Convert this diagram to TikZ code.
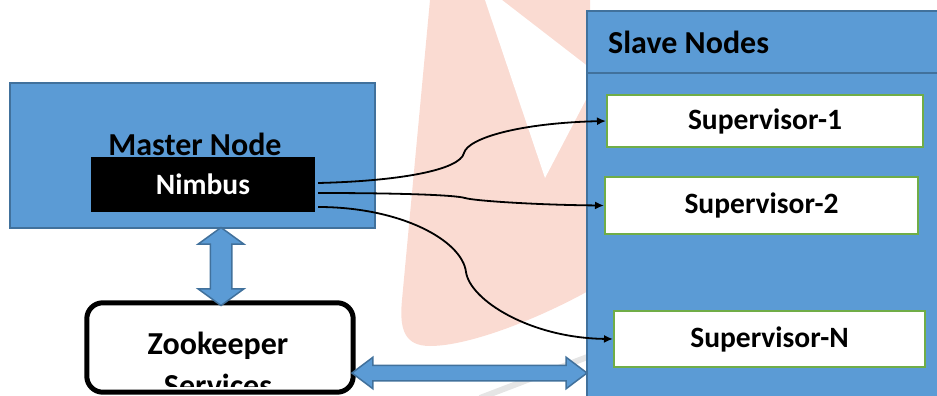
\documentclass[tikz,border=0pt]{standalone}
\usepackage{fontspec}
\setmainfont{Carlito}
\usetikzlibrary{shapes.arrows,arrows.meta}
\definecolor{boxblue}{HTML}{5B9BD5}
\definecolor{edgeblue}{HTML}{41719C}
\definecolor{supgreen}{HTML}{70AD47}
\definecolor{markpink}{HTML}{FADBD2}

\begin{document}
\begin{tikzpicture}[x=1pt, y=-1pt,
    bluebox/.style={draw=edgeblue, fill=boxblue, line width=2pt, inner sep=0pt},
    supbox/.style={draw=supgreen, fill=white, line width=2pt, inner sep=0pt,
      font=\fontsize{29.5}{34}\selectfont\bfseries},
    title/.style={inner sep=0pt, font=\fontsize{32}{42}\selectfont\bfseries},
    fatarrow/.style={double arrow, draw=edgeblue, fill=boxblue, line width=1.5pt, inner sep=0pt},
    link/.style={-{Latex[length=9pt,width=8pt]}, line width=1.8pt}]
  \useasboundingbox (0,0) rectangle (937,396);
  \clip (0,0) rectangle (937,396);

  % faint watermark behind everything
  \fill[markpink] (430,0) -- (590,0) -- (590,290) .. controls (540,318) and (470,346) .. (430,346)
      .. controls (405,346) and (399,330) .. (402,300) -- cycle;
  \fill[white] (485,0) -- (502,0) -- (590,68) -- (590,92) -- (545,178) -- cycle;
  \draw[gray!20, line width=6pt] (480,398) -- (590,356);

  % master side
  \node[bluebox, minimum width=365pt, minimum height=145pt] (master) at (192.5,155.5) {};
  \node[title] (mastertxt) at (195,144) {Master Node};
  \node[fill=black, inner sep=0pt, minimum width=224pt, minimum height=55pt, text=white,
    font=\fontsize{29.5}{34}\selectfont\bfseries] (nimbus) at (203,184.5) {Nimbus};

  % zookeeper box, the second line is cut by its bottom edge
  \node[fill=white, rounded corners=16pt, minimum width=266pt, minimum height=89pt] (zookeeper) at (220,347.5) {};
  \begin{scope}
    \clip (0,0) rectangle (937,386);
    \node[title, align=center, anchor=north] (zktxt) at (218,332) {Zookeeper\\Services};
  \end{scope}
  \draw[line width=5pt, rounded corners=16pt] (zookeeper.north west) rectangle (zookeeper.south east);

  % slave side
  \node[bluebox, minimum width=370pt, minimum height=400pt, anchor=north west] (slave) at (586,10) {};
  \coordinate (hdr) at (0,73);
  \draw[edgeblue, line width=2pt] (slave.west |- hdr) -- (slave.east |- hdr);
  \node[title, anchor=west] (slavetxt) at (608,42) {Slave Nodes};

  \node[supbox, minimum width=316pt, minimum height=52pt] (sup1) at (765,121) {Supervisor-1};
  \node[supbox, minimum width=313pt, minimum height=57pt] (sup2) at (761.5,205.5) {Supervisor-2};
  \node[supbox, minimum width=311pt, minimum height=56pt] (supN) at (769.5,339) {Supervisor-N};

  % block arrows
  \node[fatarrow, rotate=90, minimum height=78pt, inner ysep=10pt,
    double arrow head extend=12pt, double arrow tip angle=108] (mzk) at (221,266.5) {};
  \node[fatarrow, minimum height=235pt, inner ysep=7pt,
    double arrow head extend=8pt, double arrow tip angle=74] (zks) at (469.5,373) {};

  % nimbus to supervisors
  \draw[link] ([xshift=3pt,yshift=1.5pt]nimbus.east) .. controls (400,181) and (460,170) .. (464,153)
      .. controls (468,138) and (520,123) .. (sup1.west);
  \draw[link] ([xshift=3pt,yshift=-8.5pt]nimbus.east) .. controls (400,193) and (455,195) .. (465,198)
      .. controls (475,201) and (540,205) .. (sup2.west);
  \draw[link] ([xshift=3pt,yshift=-22.5pt]nimbus.east) .. controls (400,207) and (462,240) .. (466,272)
      .. controls (470,300) and (530,338) .. (supN.west);
\end{tikzpicture}
\end{document}
